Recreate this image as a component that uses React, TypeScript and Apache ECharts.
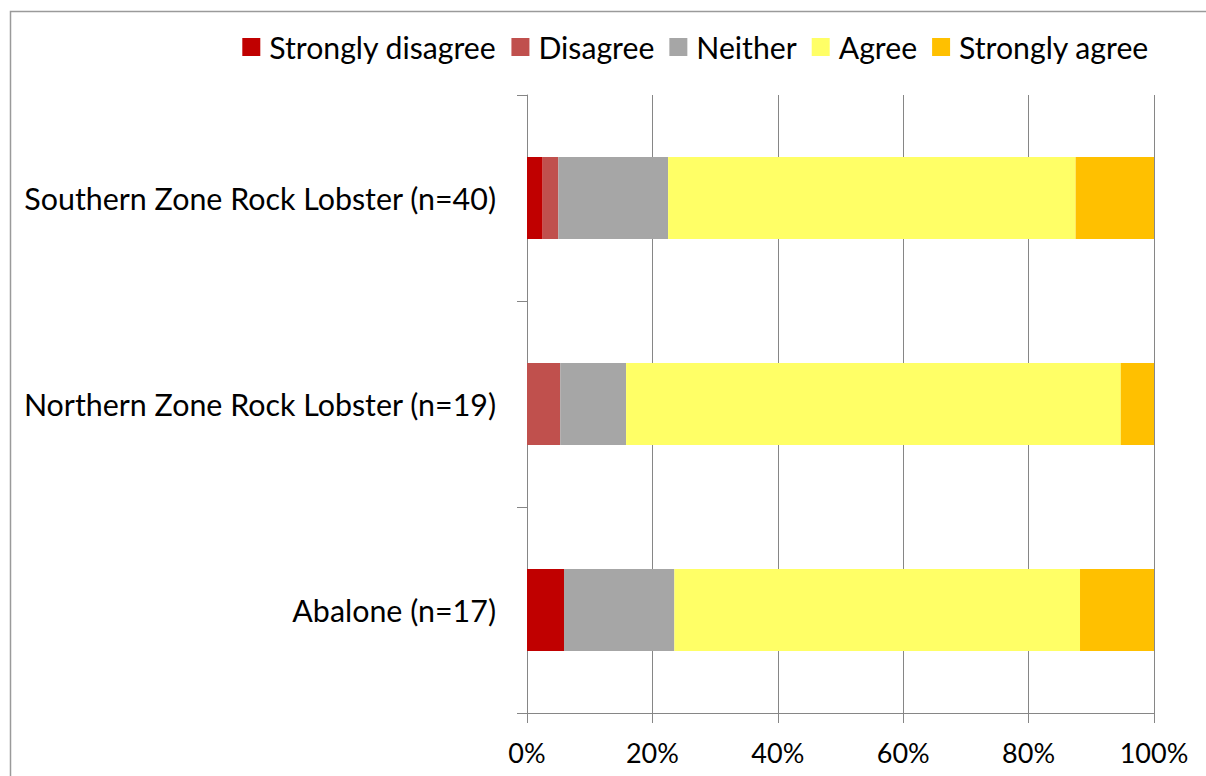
import React, { useEffect, useRef } from "react";
import * as echarts from "echarts";

// Share of respondents (%) per fishery, by response
const categories = [
  "Abalone (n=17)",
  "Northern Zone Rock Lobster (n=19)",
  "Southern Zone Rock Lobster (n=40)",
];
const stronglyDisagree = [5.9, 0, 2.5];
const disagree = [0, 5.3, 2.5];
const neither = [17.6, 10.5, 17.5];
const agree = [64.7, 78.9, 65.0];
const stronglyAgree = [11.8, 5.3, 12.5];

const seriesNames = ["Strongly disagree", "Disagree", "Neither", "Agree", "Strongly agree"];
const seriesColors = ["#C00000", "#C0504D", "#A6A6A6", "#FFFF66", "#FFC000"];
const seriesValues = [stronglyDisagree, disagree, neither, agree, stronglyAgree];

const FONT = "Lato, 'Open Sans', sans-serif";
const AXIS_GREY = "#868686";

export default function App() {
  const ref = useRef<HTMLDivElement>(null);

  useEffect(() => {
    if (!ref.current) return;
    const chart = echarts.init(ref.current, undefined, { renderer: "svg" });
    chart.setOption({
      animation: false,
      backgroundColor: "#ffffff",
      textStyle: { fontFamily: FONT, color: "#000" },
      graphic: [
        {
          type: "rect",
          silent: true,
          shape: { x: 10.5, y: 11.5, width: 1230, height: 800 },
          style: { fill: "none", stroke: "#9a9a9a", lineWidth: 1.5 },
        },
      ],
      legend: {
        data: seriesNames,
        right: 52,
        top: 27,
        itemWidth: 18,
        itemHeight: 18,
        itemGap: 15,
        icon: "rect",
        textStyle: { fontFamily: FONT, fontSize: 30.2, color: "#000", padding: [0, 0, 0, 4] },
      },
      grid: { left: 527, right: 52, top: 95, bottom: 63, containLabel: false },
      xAxis: {
        type: "value",
        min: 0,
        max: 100,
        interval: 20,
        axisLine: { show: true, lineStyle: { color: AXIS_GREY, width: 1 } },
        axisTick: { show: true, length: 10, lineStyle: { color: AXIS_GREY } },
        splitLine: { show: true, lineStyle: { color: AXIS_GREY, width: 1 } },
        axisLabel: {
          formatter: "{value}%",
          fontFamily: FONT,
          fontSize: 27,
          color: "#000",
          margin: 26,
        },
      },
      yAxis: {
        type: "category",
        data: categories,
        axisLine: { show: true, lineStyle: { color: AXIS_GREY, width: 1 } },
        axisTick: { show: true, length: 10, lineStyle: { color: AXIS_GREY } },
        axisLabel: { fontFamily: FONT, fontSize: 30.4, color: "#000", margin: 31 },
      },
      series: seriesNames.map((name, i) => ({
        name,
        type: "bar",
        stack: "total",
        barWidth: 82,
        itemStyle: { color: seriesColors[i] },
        data: seriesValues[i],
      })),
    });
    return () => chart.dispose();
  }, []);

  return (
    <div
      ref={ref}
      style={{ position: "fixed", left: 0, top: 0, width: 1206, height: 776 }}
    />
  );
}
